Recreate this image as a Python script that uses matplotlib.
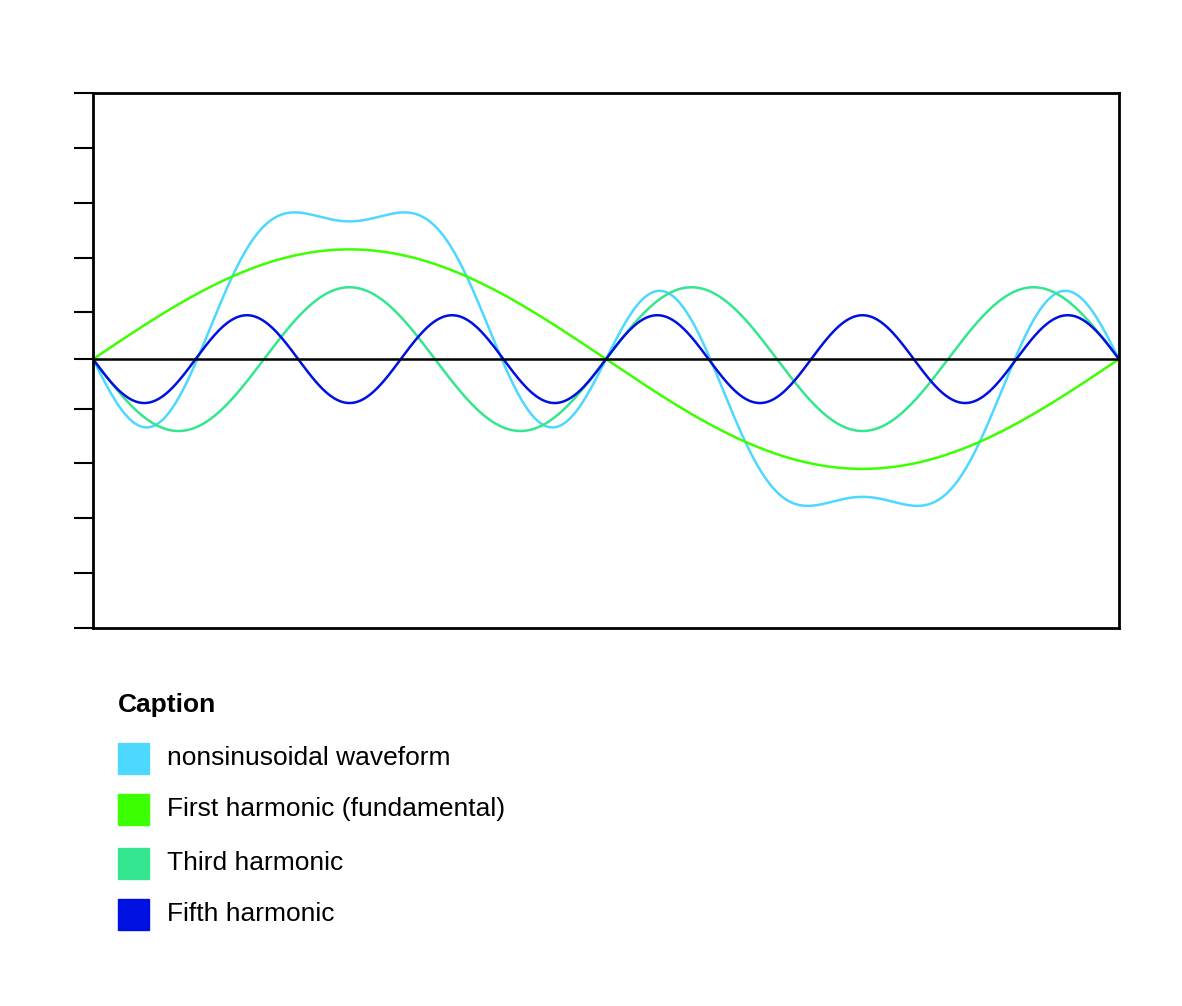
import numpy as np
import matplotlib.pyplot as plt
from matplotlib.patches import Rectangle

plt.rcParams['font.family'] = ['Liberation Sans', 'DejaVu Sans']

# amplitudes (y units) and harmonic numbers
harmonics = [1, 3, 5]
amplitudes = [2.0, -1.31, -0.8]
labels = ['nonsinusoidal waveform', 'First harmonic (fundamental)',
          'Third harmonic', 'Fifth harmonic']
colors = ['#4dd8ff', '#3cff00', '#33e68f', '#0010e0']
yticks = [-4.9, -3.9, -2.9, -1.9, -0.9, 0, 0.85, 1.85, 2.85, 3.85, 4.85]

x = np.linspace(0, 1, 1000)
parts = [a * np.sin(2 * np.pi * n * x) for n, a in zip(harmonics, amplitudes)]
total = sum(parts)

fig = plt.figure(figsize=(11.82, 10.06), dpi=100)
ax = fig.add_axes([93 / 1182, 1 - 628 / 1006, 1026 / 1182, 535 / 1006])
ax.plot(x, total, color=colors[0], lw=1.8)
ax.plot(x, parts[0], color=colors[1], lw=1.8)
ax.plot(x, parts[1], color=colors[2], lw=1.8)
ax.plot(x, parts[2], color=colors[3], lw=1.8)
ax.axhline(0, color='black', lw=1.8)
ax.set_xlim(0, 1)
ax.set_ylim(-4.9, 4.85)
ax.set_xticks([])
ax.set_yticks(yticks)
ax.set_yticklabels([])
ax.tick_params(axis='y', direction='out', length=14, width=1.5)
for s in ax.spines.values():
    s.set_linewidth(2)

W, H = 1182, 1006
fig.text(118 / W, 1 - 705 / H, 'Caption', fontsize=19, fontweight='bold',
         va='center', ha='left')
ys = [758, 809, 863, 914]
for yc, lab, c in zip(ys, labels, colors):
    fig.patches.append(Rectangle((118 / W, 1 - (yc + 16) / H), 31 / W, 31 / H,
                                 transform=fig.transFigure, color=c))
    fig.text(167 / W, 1 - yc / H, lab, fontsize=19, va='center', ha='left')

fig.savefig('out.png', dpi=100)
